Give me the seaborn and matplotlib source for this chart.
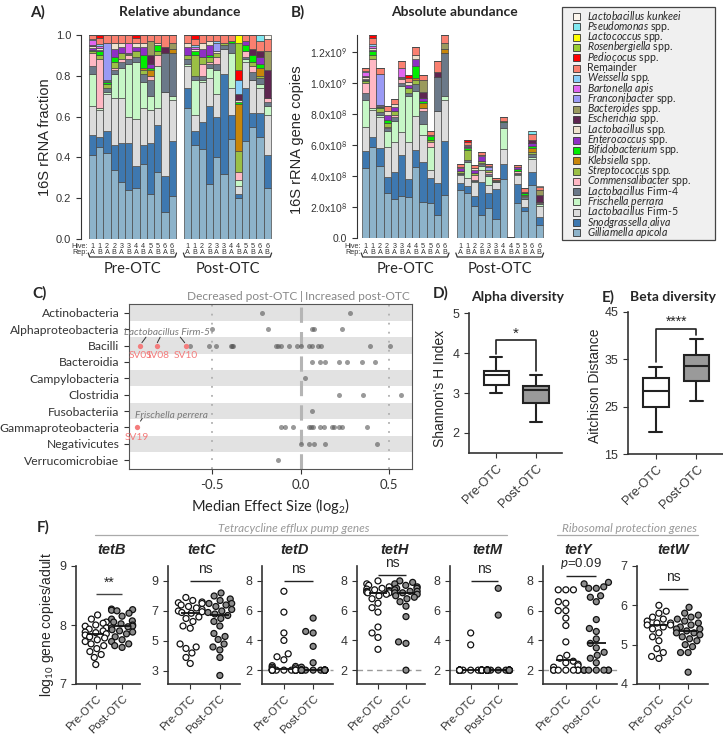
import warnings
import numpy as np
import pandas as pd
import matplotlib
matplotlib.use("Agg")
import matplotlib.pyplot as plt
import seaborn as sns
from matplotlib import transforms
from matplotlib.patches import Rectangle

warnings.filterwarnings("ignore")

W, H = 723, 735
ARIAL = ["Liberation Sans", "DejaVu Sans"]
CALI = ["Lato", "DejaVu Sans"]

# ---------------- data: A / B stacked bars (fractions, bottom -> top) ----------------
hive = ["1", "1", "2", "2", "3", "3", "4", "4", "5", "5", "6", "6"]
rep = ["A", "B", "A", "B", "A", "B", "A", "B", "A", "B", "A", "B"]

# 12 pre-OTC samples followed by 12 post-OTC samples
g_apicola = [.41, .45, .42, .34, .28, .24, .25, .37, .22, .33, .13, .21,
             .64, .46, .44, .27, .40, .32, .49, .20, .48, .55, .50, .25]
s_alvi = [.10, .05, .11, .12, .19, .23, .11, .09, .25, .23, .18, .27,
          .10, .07, .135, .38, .20, .49, .12, .02, .26, .07, .12, .16]
firm5 = [.14, .13, .18, .23, .22, .13, .23, .18, .16, .08, .41, .20,
         .11, .08, .195, .14, .11, .12, .13, .04, .13, .16, .12, .20]
frischella = [.16, .01, .01, .12, .15, .26, .28, .13, .07, .21, 0, .02,
              .01, .17, .01, .05, .12, 0, .17, .03, .01, 0, .02, .04]
firm4 = [.04, 0, .02, .02, .03, .02, .02, .04, .08, 0, .19, .21,
         .02, .02, .02, .02, .03, .02, .05, 0, .01, .04, .03, .02]
commensalibacter = [.06, .24, 0, .01, .01, .02, 0, 0, .02, .05, 0, 0,
                    0, 0, .06, .01, .03, 0, 0, .04, .03, .03, 0, .02]
streptococcus = [.01, .02, .02, .03, .03, .005, .03, .02, 0, .02, 0, 0,
                 .02, .10, .03, .02, .02, .01, 0, .10, 0, .02, .01, 0]
klebsiella = [0, 0, 0, 0, 0, 0, 0, .01, .03, 0, 0, .02,
              0, 0, 0, 0, 0, 0, 0, .23, 0, 0, .04, 0]
bifidobacterium = [.005, .02, .01, .02, 0, 0, 0, .06, .01, .03, 0, 0,
                   0, .02, 0, .01, 0, 0, .01, .01, .03, .03, .02, 0]
enterococcus = [.01, .005, .005, .04, .03, 0, .02, .04, .02, 0, 0, 0,
                .04, 0, .04, .05, 0, 0, 0, 0, .02, 0, .03, 0]
lacto_spp = [.01, .01, .005, .03, .02, .005, .02, .02, 0, .01, 0, 0,
             .02, .01, .03, .02, .01, 0, 0, .01, 0, 0, 0, 0]
escherichia = [.005, 0, 0, 0, 0, 0, 0, 0, .04, 0, .03, 0,
               0, 0, 0, 0, 0, 0, 0, .03, 0, .03, .03, .14]
bacteroides = [0, 0, 0, 0, 0, 0, 0, 0, .07, 0, 0, .03,
               0, 0, 0, 0, 0, 0, 0, 0, 0, 0, 0, .09]
franconibacter = [0, 0, .18, 0, 0, 0, 0, 0, 0, 0, 0, 0,
                  0, 0, 0, 0, .04, 0, 0, 0, 0, 0, 0, 0]
bartonella = [.025, .01, 0, 0, 0, .05, 0, 0, 0, 0, 0, 0,
              0, .01, 0, 0, 0, 0, 0, 0, 0, 0, 0, 0]
weissella = [.005, .01, 0, 0, 0, 0, 0, 0, 0, 0, 0, 0,
             0, .01, 0, 0, .01, 0, 0, .07, 0, 0, 0, 0]
remainder = [.02, .03, .04, .04, .04, .04, .025, .04, .03, .04, .06, .04,
             .04, .03, .04, .03, .03, .04, .03, 0, .03, .07, .05, .06]
pediococus = [0, .015, 0, 0, 0, 0, .015, 0, 0, 0, 0, 0,
              0, .02, 0, 0, 0, 0, 0, .05, 0, 0, 0, 0]
rosenbergiella = [0, 0, 0, 0, 0, 0, 0, 0, 0, 0, 0, 0,
                  0, 0, 0, 0, 0, 0, 0, .13, 0, 0, 0, 0]
lactococcus = [0, 0, 0, 0, 0, 0, 0, 0, 0, 0, 0, 0,
               0, 0, 0, 0, 0, 0, 0, .04, 0, 0, 0, 0]
pseudomonas = [0, 0, 0, 0, 0, 0, 0, 0, 0, 0, 0, 0,
               0, 0, 0, 0, 0, 0, 0, 0, 0, 0, .03, 0]
l_kunkeei = [0, 0, 0, 0, 0, 0, 0, 0, 0, 0, 0, 0,
             0, 0, 0, 0, 0, 0, 0, 0, 0, 0, 0, .02]

# total 16S copies (x1e9) for the absolute panel
totals_pre = [1.10, 1.31, 1.10, 0.855, 0.90, 1.14, 1.05, 1.23, 1.05, 0.69, 1.14, 1.31]
totals_post = [0.48, 0.63, 0.47, 0.555, 0.48, 0.39, 0.78, 0.008, 0.47, 0.32, 0.69, 0.335]

taxa_labels = [
    r"$\it{Gilliamella\ apicola}$", r"$\it{Snodgrassella\ aliva}$",
    r"$\it{Lactobacillus}$ Firm-5", r"$\it{Frischella\ perrara}$",
    r"$\it{Lactobacillus}$ Firm-4", r"$\it{Commensalibacter}$ spp.",
    r"$\it{Streptococcus}$ spp.", r"$\it{Klebsiella}$ spp.",
    r"$\it{Bifidobacterium}$ spp.", r"$\it{Enterococcus}$ spp.",
    r"$\it{Lactobacillus}$ spp.", r"$\it{Escherichia}$ spp.",
    r"$\it{Bacteroides}$ spp.", r"$\it{Franconibacter}$ spp.",
    r"$\it{Bartonella\ apis}$", r"$\it{Weissella}$ spp.", "Remainder",
    r"$\it{Pediococus}$ spp.", r"$\it{Rosenbergiella}$ spp.",
    r"$\it{Lactococcus}$ spp.", r"$\it{Pseudomonas}$ spp.",
    r"$\it{Lactobacillus\ kunkeei}$",
]
taxa_colors = ["#8db3ca", "#3e78b0", "#dcdcdc", "#c6f7c6", "#6b7989", "#ffb8c4",
               "#9bbf45", "#c8860a", "#00ee00", "#8e2fc4", "#efe3cf", "#5e2550",
               "#9a9a5e", "#9a9af5", "#e066f0", "#87cefa", "#fa8070", "#ff0000",
               "#9acd32", "#ffff00", "#80e8f0", "#fbf5ec"]

# ---------------- data: C (effect sizes per class) ----------------
classes = ["Actinobacteria", "Alphaproteobacteria", "Bacilli", "Bacteroidia",
           "Campylobacteria", "Clostridia", "Fusobacteriia",
           "Gammaproteobacteria", "Negativicutes", "Verrucomicrobiae"]
effects = {
    "Actinobacteria": [-0.22, 0.28],
    "Alphaproteobacteria": [-0.50, -0.185, 0.065, 0.075, 0.235],
    "Bacilli": [-0.625, -0.52, -0.48, -0.395, -0.385, -0.38, -0.14, -0.13, -0.11,
                -0.065, -0.02, 0.0, 0.045, 0.065, 0.10, 0.115, 0.395, 0.505],
    "Bacteroidia": [0.065, 0.11, 0.14, 0.22, 0.26, 0.345, 0.42],
    "Campylobacteria": [0.025],
    "Clostridia": [0.215, 0.355, 0.57],
    "Fusobacteriia": [0.067],
    "Gammaproteobacteria": [-0.11, -0.09, -0.04, 0.045, 0.057, 0.073, 0.11, 0.13,
                            0.18, 0.19, 0.215, 0.235, 0.375],
    "Negativicutes": [0.005, 0.05, 0.077, 0.14, 0.43],
    "Verrucomicrobiae": [-0.13],
}
sig_class = ["Bacilli", "Bacilli", "Bacilli", "Gammaproteobacteria"]
sig_effect = [-0.905, -0.81, -0.65, -0.925]
sig_names = ["SV01", "SV08", "SV10", "SV19"]

# ---------------- data: D / E ----------------
shannon_pre = [3.0, 3.1, 3.15, 3.2, 3.35, 3.45, 3.45, 3.5, 3.55, 3.6, 3.75, 3.9]
shannon_post = [2.28, 2.5, 2.7, 2.75, 2.9, 3.05, 3.1, 3.12, 3.18, 3.2, 3.3, 3.45]
aitchison_pre = [19.6, 23.0, 24.5, 25.2, 27.0, 28.0, 28.8, 30.0, 31.0, 31.3, 32.5, 33.3]
aitchison_post = [26.1, 28.5, 30.0, 30.5, 32.0, 33.0, 34.0, 35.0, 35.8, 36.5, 38.0, 39.2]

# ---------------- data: F (log10 gene copies / adult) ----------------
tetB_pre = [8.17, 8.1, 8.05, 8.03, 8.0, 7.98, 7.95, 7.93, 7.9, 7.88, 7.87, 7.85,
            7.83, 7.8, 7.78, 7.75, 7.72, 7.68, 7.65, 7.6, 7.55, 7.5, 7.45, 7.33]
tetB_post = [8.27, 8.26, 8.25, 8.24, 8.2, 8.15, 8.1, 8.07, 8.05, 8.02, 8.0, 7.98,
             7.97, 7.95, 7.92, 7.9, 7.88, 7.85, 7.8, 7.75, 7.72, 7.68, 7.65, 7.62]
tetC_pre = [7.9, 7.7, 7.6, 7.55, 7.5, 7.4, 7.3, 7.2, 7.1, 7.0, 6.95, 6.9,
            6.85, 6.6, 6.5, 6.3, 6.0, 5.85, 4.8, 4.6, 4.5, 4.2, 3.9, 3.5]
tetC_post = [8.2, 8.0, 7.8, 7.7, 7.5, 7.5, 7.4, 7.3, 7.1, 7.0, 6.9, 6.8,
             6.7, 6.5, 6.3, 6.0, 5.5, 5.3, 5.1, 4.8, 4.6, 4.4, 3.9, 2.7]
tetD_pre = [7.3, 5.9, 4.5, 4.0, 3.1, 2.9, 2.7, 2.3, 2.25, 2.2, 2.15, 2.1,
            2.0, 2.0, 2.0, 2.0, 2.0, 2.0, 2.0, 2.0, 2.0, 2.0, 2.0, 2.0]
tetD_post = [5.5, 4.6, 4.5, 3.6, 2.5, 2.2, 2.0, 2.0, 2.0, 2.0, 2.0, 2.0,
             2.0, 2.0, 2.0, 2.0, 2.0, 2.0, 2.0, 2.0, 2.0, 2.0, 2.0, 2.0]
tetH_pre = [8.0, 7.8, 7.7, 7.6, 7.5, 7.45, 7.4, 7.35, 7.3, 7.3, 7.25, 7.2,
            7.2, 7.1, 7.0, 6.8, 6.5, 6.2, 5.9, 4.9, 4.5, 4.2, 3.4]
tetH_post = [8.0, 7.9, 7.8, 7.7, 7.6, 7.5, 7.5, 7.4, 7.3, 7.3, 7.2, 7.2,
             7.1, 7.0, 6.9, 6.8, 6.6, 6.3, 5.6, 3.9, 3.8, 2.0]
tetM_pre = [4.5, 3.7, 2.0, 2.0, 2.0, 2.0, 2.0, 2.0, 2.0, 2.0, 2.0, 2.0,
            2.0, 2.0, 2.0, 2.0, 2.0, 2.0, 2.0, 2.0, 2.0, 2.0, 2.0, 2.0]
tetM_post = [7.5, 5.7, 2.0, 2.0, 2.0, 2.0, 2.0, 2.0, 2.0, 2.0, 2.0, 2.0,
             2.0, 2.0, 2.0, 2.0, 2.0, 2.0, 2.0, 2.0, 2.0, 2.0, 2.0, 2.0]
tetY_pre = [7.4, 7.4, 7.4, 6.6, 6.5, 6.0, 6.0, 5.5, 5.0, 3.9, 3.0, 2.8,
            2.6, 2.5, 2.4, 2.3, 2.2, 2.0, 2.0, 2.0, 2.0, 2.0, 2.0, 2.0]
tetY_post = [7.9, 7.8, 7.6, 7.5, 7.5, 7.0, 6.9, 6.6, 5.4, 4.8, 4.6, 4.1, 3.8,
             3.5, 3.2, 3.0, 2.8, 2.5, 2.0, 2.0, 2.0, 2.0, 2.0, 2.0, 2.0]
tetW_pre = [6.0, 5.85, 5.8, 5.7, 5.65, 5.6, 5.55, 5.55, 5.5, 5.5, 5.45, 5.4,
            5.3, 5.2, 5.1, 4.9, 4.8, 4.7, 4.65]
tetW_post = [5.95, 5.8, 5.75, 5.7, 5.65, 5.6, 5.55, 5.5, 5.45, 5.4, 5.4, 5.35,
             5.3, 5.3, 5.25, 5.2, 5.15, 5.1, 5.0, 4.95, 4.8, 4.8, 4.3]

genes = ["tetB", "tetC", "tetD", "tetH", "tetM", "tetY", "tetW"]
gene_pre = [tetB_pre, tetC_pre, tetD_pre, tetH_pre, tetM_pre, tetY_pre, tetW_pre]
gene_post = [tetB_post, tetC_post, tetD_post, tetH_post, tetM_post, tetY_post, tetW_post]
gene_sig = ["**", "ns", "ns", "ns", "ns", r"$\it{p}$=0.09", "ns"]
sig_level = [8.52, 9.0, 8.0, 8.4, 8.0, 8.33, 6.41]

# ---------------- style ----------------
sns.set_style("ticks")
plt.rcParams["font.family"] = ARIAL
plt.rcParams["mathtext.fontset"] = "custom"
plt.rcParams["mathtext.rm"] = "Lato"
plt.rcParams["mathtext.it"] = "Lato:italic"
plt.rcParams["mathtext.bf"] = "Lato:bold"
plt.rcParams["axes.edgecolor"] = "#333333"
plt.rcParams["xtick.color"] = "#333333"
plt.rcParams["ytick.color"] = "#333333"

fig = plt.figure(figsize=(W / 100, H / 100), dpi=100)


def box(l, t, r, b):
    return fig.add_axes([l / W, 1 - b / H, (r - l) / W, (b - t) / H])


def ftext(x, y, s, **kw):
    kw.setdefault("ha", "center")
    kw.setdefault("va", "center")
    fig.text(x / W, 1 - y / H, s, **kw)


def frect(l, t, w, h, **kw):
    fig.add_artist(Rectangle((l / W, 1 - (t + h) / H), w / W, h / H,
                             transform=fig.transFigure, **kw))


frac = np.array([g_apicola, s_alvi, firm5, frischella, firm4, commensalibacter,
                 streptococcus, klebsiella, bifidobacterium, enterococcus, lacto_spp,
                 escherichia, bacteroides, franconibacter, bartonella, weissella,
                 remainder, pediococus, rosenbergiella, lactococcus, pseudomonas,
                 l_kunkeei], dtype=float)
frac = frac / frac.sum(axis=0)
xpos = np.r_[np.arange(12), np.arange(12) + 13.15]


def stacked(ax, scale):
    bottom = np.zeros(xpos.size)
    for vals, color in zip(frac, taxa_colors):
        h = vals * scale
        ax.bar(xpos, h, bottom=bottom, width=1.0, color=color,
               edgecolor="#4a4a4a", linewidth=0.5)
        bottom += h


def sample_labels(ax):
    tr = transforms.blended_transform_factory(ax.transData, fig.transFigure)
    for k, x in enumerate(xpos):
        ax.text(x, 1 - 246 / H, hive[k % 12], transform=tr, ha="center",
                va="center", fontsize=5.2, color="#333")
        ax.text(x, 1 - 253 / H, rep[k % 12], transform=tr, ha="center",
                va="center", fontsize=5.2, color="#333")
    ax.text(-0.7, 1 - 246 / H, "Hive:", transform=tr, ha="right", va="center",
            fontsize=5.2, color="#333")
    ax.text(-0.7, 1 - 253 / H, "Rep:", transform=tr, ha="right", va="center",
            fontsize=5.2, color="#333")
    for x0, name in [(0, "Pre-OTC"), (13.15, "Post-OTC")]:
        xs = [x0 - 0.6, x0 - 0.4, x0 + 11.4, x0 + 11.6]
        ys = [1 - 253 / H, 1 - 257 / H, 1 - 257 / H, 1 - 253 / H]
        ax.plot(xs, ys, transform=tr, color="#333", lw=0.9, clip_on=False)
        ax.text(x0 + 5.5, 1 - 269 / H, name, transform=tr, ha="center",
                va="center", fontsize=10.5, family=CALI)


# ---------------- A ----------------
axA = box(81, 35, 272, 239)
stacked(axA, 1.0)
axA.set_xlim(-1.6, 24.8)
axA.set_ylim(0, 1.0)
axA.set_yticks([0, 0.2, 0.4, 0.6, 0.8, 1.0])
axA.set_yticklabels(["0.0", "0.2", "0.4", "0.6", "0.8", "1.0"], fontsize=8)
axA.set_xticks([])
sns.despine(ax=axA, bottom=True)
sample_labels(axA)
ftext(45, 137, "16S rRNA fraction", rotation=90, fontsize=10.5)
ftext(38, 12, "A)", fontsize=11, fontweight="bold", family=CALI)
ftext(180, 12, "Relative abundance", fontsize=10, fontweight="bold", family=CALI)

# ---------------- B ----------------
axB = box(357, 35, 545, 238)
stacked(axB, np.array(totals_pre + totals_post) * 1e9)
axB.set_xlim(-1.19, 24.95)
axB.set_ylim(0, 1.31e9)
axB.set_yticks(np.arange(0, 1.3e9, 2e8))
axB.set_yticklabels(["0.0", r"2.0x10$^8$", r"4.0x10$^8$", r"6.0x10$^8$",
                     r"8.0x10$^8$", r"1.0x10$^9$", r"1.2x10$^9$"], fontsize=7.5)
axB.set_xticks([])
sns.despine(ax=axB, bottom=True)
sample_labels(axB)
ftext(297, 140, "16S rRNA gene copies", rotation=90, fontsize=10.5)
ftext(298, 12, "B)", fontsize=11, fontweight="bold", family=CALI)
ftext(454, 12, "Absolute abundance", fontsize=10, fontweight="bold", family=CALI)

# legend box, drawn entry by entry so rows keep the tight spacing
frect(562, 7, 153, 233, facecolor="#f0f0f0", edgecolor="#444444", lw=0.9)
for i, (lab, col) in enumerate(zip(taxa_labels[::-1], taxa_colors[::-1])):
    yc = 16.5 + i * 10.3
    frect(573, yc - 3.5, 7, 7, facecolor=col, edgecolor="#333", lw=0.6)
    ftext(587, yc + 3.0, lab, ha="left", va="baseline", fontsize=7.6, family=CALI)

# ---------------- C ----------------
axC = box(129, 304, 412, 469)
dfC = pd.DataFrame([(c, e) for c in classes for e in effects[c]], columns=["cls", "eff"])
dfS = pd.DataFrame({"cls": sig_class, "eff": sig_effect})
for i in range(0, 10, 2):
    axC.axhspan(i - 0.5 if i else -0.7, i + 0.5, color="#e2e2e2", zorder=0, lw=0)
axC.axvline(-0.5, color="#b0b0b0", ls=(0, (1, 4)), lw=1.3, zorder=1)
axC.axvline(0.5, color="#b0b0b0", ls=(0, (1, 4)), lw=1.3, zorder=1)
axC.axvline(0.0, color="#b5b5b5", ls=(0, (5, 3)), lw=2.2, zorder=1)
sns.stripplot(data=dfC, x="eff", y="cls", order=classes, jitter=False,
              color="#555555", alpha=0.6, size=3.6, linewidth=0, ax=axC, zorder=3)
sns.stripplot(data=dfS, x="eff", y="cls", order=classes, jitter=False,
              color="#f47c7c", size=3.8, linewidth=0, ax=axC, zorder=4)
axC.set_xlim(-0.97, 0.63)
axC.set_ylim(9.55, -0.55)
axC.set_xticks([-0.5, 0.0, 0.5])
axC.set_xticklabels(["-0.5", "0.0", "0.5"], fontsize=9.5, family=CALI)
axC.set_yticks(range(10))
axC.set_yticklabels(classes, fontsize=8.7, family=CALI)
axC.set_ylabel("")
axC.set_xlabel(r"Median Effect Size (log$_2$)", fontsize=10.5, family=CALI)
for s in axC.spines.values():
    s.set_color("#555555")

ann_grey = "#7a7a7a"
axC.text(-0.755, 1.22, "Lactobacillus Firm-5", fontsize=7.3, style="italic",
         color=ann_grey, ha="center", va="center", family=CALI)
for (x0, x1) in [(-0.874, -0.897), (-0.794, -0.81), (-0.68, -0.655)]:
    axC.plot([x0, x1], [1.48, 1.82], color="#333", lw=0.7)
for name, eff, cls in zip(sig_names, sig_effect, sig_class):
    axC.text(eff, classes.index(cls) + 0.62, name, color="#f47c7c",
             fontsize=7.3, ha="center", va="center", family=CALI)
axC.text(-0.73, 6.25, "Frischella perrera", fontsize=7.3, style="italic",
         color=ann_grey, ha="center", va="center", family=CALI)
axC.plot([-0.895, -0.905], [6.45, 6.62], color="#333", lw=0.7)

ftext(40, 293, "C)", fontsize=11, fontweight="bold", family=CALI)
ftext(297, 296, "Decreased post-OTC", ha="right", fontsize=8.6, color="#888",
      family=CALI)
ftext(301, 296, "|", fontsize=8.6, color="#888", family=CALI)
ftext(305, 296, "Increased post-OTC", ha="left", fontsize=8.6, color="#888",
      family=CALI)


# ---------------- D / E ----------------
def diversity_box(ax, pre, post, ylim, yticks):
    df = pd.DataFrame({"grp": ["Pre-OTC"] * len(pre) + ["Post-OTC"] * len(post),
                       "val": pre + post})
    sns.boxplot(data=df, x="grp", y="val", hue="grp",
                palette={"Pre-OTC": "white", "Post-OTC": "#9a9a9a"},
                whis=(0, 100), width=0.63, linecolor="#222222", linewidth=1.5,
                legend=False, ax=ax)
    ax.set_xlim(-0.68, 1.65)
    ax.set_ylim(*ylim)
    ax.set_yticks(yticks)
    ax.tick_params(axis="y", labelsize=9)
    ax.set_xticks([0, 1])
    ax.set_xticklabels(["Pre-OTC", "Post-OTC"], rotation=45, ha="right",
                       rotation_mode="anchor", fontsize=9)
    ax.set_xlabel("")
    ax.set_ylabel("")
    sns.despine(ax=ax)
    for s in ax.spines.values():
        s.set_linewidth(1.2)


axD = box(469, 313, 562, 453)
diversity_box(axD, shannon_pre, shannon_post, (1.5, 5.0), [2, 3, 4, 5])
axD.plot([0, 0, 1, 1], [3.97, 4.33, 4.33, 3.55], color="#222", lw=1.2)
axD.text(0.5, 4.47, "*", ha="center", va="center", fontsize=11)
ftext(440, 388, "Shannon's H Index", rotation=90, fontsize=10)
ftext(441, 293, "D)", fontsize=11, fontweight="bold", family=CALI)
ftext(518, 297, "Alpha diversity", fontsize=10, fontweight="bold", family=CALI)

axE = box(628, 312, 723, 454)
diversity_box(axE, aitchison_pre, aitchison_post, (15, 45), [15, 25, 35, 45])
axE.plot([0, 0, 1, 1], [34.4, 41.5, 41.5, 40.2], color="#222", lw=1.2)
axE.text(0.5, 43.0, "****", ha="center", va="center", fontsize=10)
ftext(595, 386, "Aitchison Distance", rotation=90, fontsize=10)
ftext(608, 297, "E)", fontsize=11, fontweight="bold", family=CALI)
ftext(673, 297, "Beta diversity", fontsize=10, fontweight="bold", family=CALI)

# ---------------- F ----------------
f_boxes = [(76, 140), (168, 240), (262, 333), (357, 425), (450, 517),
           (543, 617), (637, 708)]
f_centers = [112, 202, 295, 395, 487, 578, 673]
f_ylims = [(7, 9), (2.13, 10.0), (1.07, 9.0), (1.07, 9.0), (1.07, 9.0),
           (1.07, 9.0), (4, 7)]
f_yticks = [[7, 8, 9], [3, 5, 7, 9], [2, 4, 6, 8], [2, 4, 6, 8], [2, 4, 6, 8],
            [2, 4, 6, 8], [4, 5, 6, 7]]
f_lod = [False, False, True, True, True, True, False]

for k, gene in enumerate(genes):
    l, r = f_boxes[k]
    ax = box(l, 566, r, 684)
    pre, post = gene_pre[k], gene_post[k]
    df = pd.DataFrame({"grp": ["Pre-OTC"] * len(pre) + ["Post-OTC"] * len(post),
                       "val": pre + post})
    if f_lod[k]:
        ax.axhline(2, color="#9a9a9a", ls=(0, (4, 3)), lw=1.0, zorder=0,
                   clip_on=False)
    sns.swarmplot(data=df, x="grp", y="val", hue="grp",
                  palette={"Pre-OTC": "white", "Post-OTC": "#8c8c8c"},
                  edgecolor="#111111", linewidth=0.9, size=4.3, legend=False,
                  ax=ax, zorder=3)
    for i, vals in enumerate([pre, post]):
        ax.hlines(np.median(vals), i - 0.32, i + 0.32, color="#111", lw=1.3, zorder=5)
    ax.hlines(sig_level[k], 0, 1, color="#444" if k == 0 else "#222", lw=1.0)
    span = f_ylims[k][1] - f_ylims[k][0]
    ax.text(0.5, sig_level[k] + span * 0.04, gene_sig[k], ha="center", va="bottom",
            fontsize=10 if k != 5 else 9.5)
    ax.set_xlim(-0.75, 1.68)
    ax.set_ylim(*f_ylims[k])
    ax.set_yticks(f_yticks[k])
    ax.tick_params(axis="y", labelsize=9)
    ax.set_xticks([0, 1])
    ax.set_xticklabels(["Pre-OTC", "Post-OTC"], rotation=45, ha="right",
                       rotation_mode="anchor", fontsize=8)
    ax.set_xlabel("")
    ax.set_ylabel("")
    sns.despine(ax=ax)
    for s in ax.spines.values():
        s.set_linewidth(1.2)
    ftext(f_centers[k], 550, gene, fontsize=10.5, fontweight="bold", style="italic")

ftext(43, 527, "F)", fontsize=11, fontweight="bold", family=CALI)
ftext(47, 625, r"log$_{10}$ gene copies/adult", rotation=90, fontsize=10)
ftext(370, 528, "Tetracycline efflux pump genes", ha="right", fontsize=8.5,
      style="italic", color="#999", family=CALI)
ftext(629, 528, "Ribosomal protection genes", fontsize=8.5, style="italic",
      color="#999", family=CALI)
fig.add_artist(plt.Line2D([95 / W, 507 / W], [1 - 535 / H, 1 - 535 / H],
                          color="#aaa", lw=0.9))
fig.add_artist(plt.Line2D([557 / W, 698 / W], [1 - 535 / H, 1 - 535 / H],
                          color="#aaa", lw=0.9))

fig.savefig("out.png", dpi=100)
